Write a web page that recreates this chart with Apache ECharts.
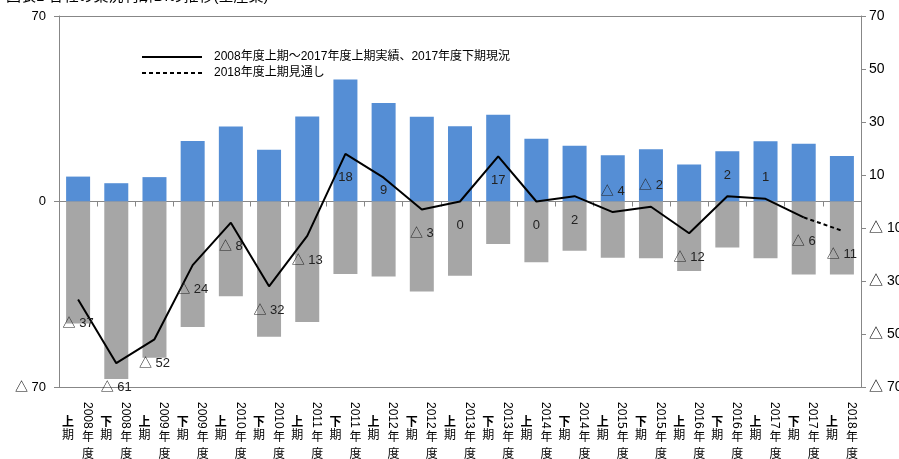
<!DOCTYPE html>
<html><head><meta charset="utf-8">
<script src="https://cdn.jsdelivr.net/npm/echarts@6/dist/echarts.min.js"></script>
<style>html,body{margin:0;padding:0;background:#fff}#c{width:899px;height:459px}</style>
</head><body><div id="c"></div>
<script>
const years = ['2008','2008','2009','2009','2010','2010','2011','2011','2012','2012','2013','2013','2014','2014','2015','2015','2016','2016','2017','2017','2018'];
const halves = ['上','下','上','下','上','下','上','下','上','下','上','下','上','下','上','下','上','下','上','下','上'];
const categories = years.map((y, i) => y + '年度' + halves[i] + '期');
const upBars = [9.4, 6.9, 9.2, 22.8, 28.3, 19.5, 32.1, 46, 37.2, 32, 28.4, 32.7, 23.7, 21, 17.5, 19.7, 14, 19, 22.7, 21.8, 17.2];
const downBars = [-46, -67, -59, -47.4, -35.8, -51, -45.5, -27.4, -28.3, -34, -28, -16, -22.9, -18.6, -21.2, -21.4, -26.2, -17.4, -21.4, -27.5, -27.5];
const diActual = [-37, -61, -52, -24, -8, -32, -13, 18, 9, -3, 0, 17, 0, 2, -4, -2, -12, 2, 1, -6, null];
const diForecast = [null, null, null, null, null, null, null, null, null, null, null, null, null, null, null, null, null, null, null, -6, -11];
const labelAbove = [14, 15, 17, 18];
const seriesNames = ['2008年度上期～2017年度上期実績、2017年度下期現況', '2018年度上期見通し'];
const titleText = '図表1 各社の業況判断DIの推移(全産業)';

const FONT = "'Liberation Sans', 'Noto Sans CJK JP', sans-serif";
const fmt = v => v < 0 ? '△ ' + (-v) : String(v);
const axisGray = '#878787';

const actualData = diActual.map((v, i) => ({
  value: v,
  label: {
    position: labelAbove.includes(i) ? 'top' : 'bottom',
    distance: i === 8 ? 6 : (labelAbove.includes(i) ? 14 : 17)
  }
}));
const forecastData = diForecast.map((v, i) => ({
  value: v,
  label: { show: i === diForecast.length - 1, position: 'bottom', distance: 17 }
}));

const baseX = {
  type: 'category', data: categories, gridIndex: 0, position: 'bottom', offset: 0,
  boundaryGap: true
};

const lineLabel = { show: true, formatter: p => fmt(p.value), fontFamily: FONT, fontSize: 13, color: '#222' };

const chart = echarts.init(document.getElementById('c'), null, { renderer: 'canvas' });
chart.setOption({
  animation: false,
  backgroundColor: '#fff',
  title: {
    text: titleText, left: 6, top: -11, padding: 0,
    textStyle: { fontFamily: FONT, fontSize: 15, fontWeight: 'normal', color: '#000' }
  },
  legend: {
    orient: 'vertical', left: 141, top: 51, padding: 0,
    itemWidth: 60, itemHeight: 14, itemGap: 4,
    data: seriesNames,
    textStyle: { fontFamily: FONT, fontSize: 12, color: '#000', padding: [0, 0, 0, 7] }
  },
  grid: { left: 59, right: 38, top: 16, bottom: 72, containLabel: false, outerBoundsMode: 'none' },
  xAxis: [
    Object.assign({}, baseX, {
      axisLine: { show: true, lineStyle: { color: axisGray, width: 1 } },
      axisTick: { show: true, length: 5, lineStyle: { color: axisGray } },
      axisLabel: {
        interval: 0, rotate: -90, margin: 15, lineHeight: 18,
        fontFamily: FONT, fontSize: 12, color: '#000',
        formatter: v => v.slice(0, 4) + '\n '
      }
    }),
    Object.assign({}, baseX, {
      axisLine: { show: false }, axisTick: { show: false },
      axisLabel: {
        interval: 0, margin: 42, lineHeight: 17, padding: [0, 0, 0, 20],
        fontFamily: FONT, fontSize: 12, color: '#000',
        formatter: () => '年\n度'
      }
    }),
    Object.assign({}, baseX, {
      axisLine: { show: false }, axisTick: { show: false },
      axisLabel: {
        interval: 0, margin: 29, lineHeight: 13, padding: [0, 20, 0, 0],
        fontFamily: FONT, fontSize: 12, color: '#000',
        formatter: v => '{h|' + v.charAt(6) + '}\n期',
        rich: { h: { fontFamily: FONT, fontSize: 12, fontWeight: 'bold', color: '#000', lineHeight: 13 } }
      }
    })
  ],
  yAxis: [
    {
      type: 'value', position: 'left', min: -70, max: 70, interval: 70,
      axisLine: { show: true, lineStyle: { color: axisGray } },
      axisTick: { show: true, length: 5, lineStyle: { color: axisGray } },
      axisLabel: { margin: 13, fontFamily: FONT, fontSize: 13, color: '#000', formatter: fmt },
      splitLine: { show: true, lineStyle: { color: axisGray, width: 1 } }
    },
    {
      type: 'value', position: 'right', min: -70, max: 70, interval: 20,
      axisLine: { show: true, lineStyle: { color: axisGray } },
      axisTick: { show: true, length: 5, lineStyle: { color: axisGray } },
      axisLabel: { margin: 8, fontFamily: FONT, fontSize: 14, color: '#000', formatter: fmt },
      splitLine: { show: false }
    }
  ],
  series: [
    {
      type: 'bar', name: 'up', data: upBars, xAxisIndex: 0, yAxisIndex: 0,
      barWidth: 24, barGap: '-100%', itemStyle: { color: '#558ED5' }
    },
    {
      type: 'bar', name: 'down', data: downBars, xAxisIndex: 0, yAxisIndex: 0,
      barWidth: 24, barGap: '-100%', itemStyle: { color: '#A6A6A6' }
    },
    {
      type: 'line', name: seriesNames[0], data: actualData, xAxisIndex: 0, yAxisIndex: 0,
      symbol: 'circle', symbolSize: 1, showSymbol: true, connectNulls: false, z: 5,
      lineStyle: { color: '#000', width: 2 },
      itemStyle: { color: 'rgba(0,0,0,0)', borderWidth: 0 },
      label: lineLabel
    },
    {
      type: 'line', name: seriesNames[1], data: forecastData, xAxisIndex: 0, yAxisIndex: 0,
      symbol: 'circle', symbolSize: 1, showSymbol: true, connectNulls: false, z: 5,
      lineStyle: { color: '#000', width: 2, type: [4, 3] },
      itemStyle: { color: 'rgba(0,0,0,0)', borderWidth: 0 },
      label: lineLabel
    }
  ]
});
</script>
</body></html>
